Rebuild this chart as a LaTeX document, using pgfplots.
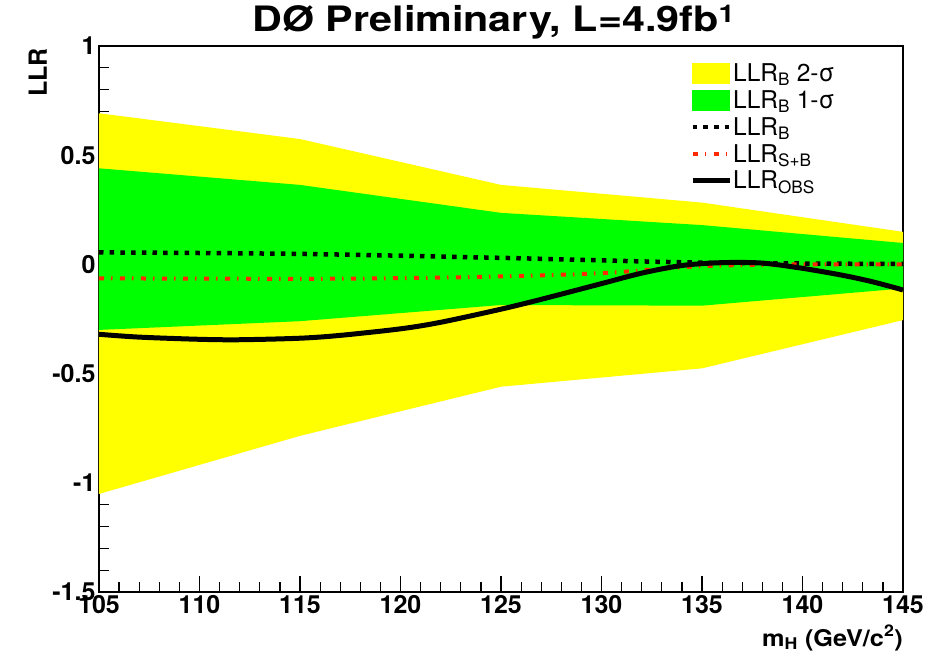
\documentclass[border=0pt]{standalone}
\usepackage{pgfplots}
\pgfplotsset{compat=1.18}
\usepackage{fontspec}
\setmainfont{TeX Gyre Heros}
\newfontfamily\widefont[FakeStretch=1.18]{TeX Gyre Heros}
\newfontfamily\semiwidefont[FakeStretch=1.1]{TeX Gyre Heros}

\definecolor{bandtwo}{RGB}{255,255,0}
\definecolor{bandone}{RGB}{0,255,0}
\definecolor{sbred}{RGB}{255,40,0}

\begin{document}
\begin{tikzpicture}
\begin{axis}[
  scale only axis, width=804pt, height=546pt,
  xmin=105, xmax=145, ymin=-1.5, ymax=1,
  xtick={105,110,...,145}, ytick={-1.5,-1,...,1},
  minor x tick num=4, minor y tick num=4,
  tick align=inside, xtick pos=left, ytick pos=left,
  major tick length=16pt, minor tick length=10pt,
  tick style={black, line width=1.2pt},
  axis line style={line width=1.5pt},
  scaled ticks=false,
  /pgf/number format/assume math mode=true,
  /pgf/number format/fixed,
  ticklabel style={font=\fontsize{25}{25}\selectfont\bfseries},
  title={DØ Preliminary, L=4.9fb\textsuperscript{1}},
  title style={at={(axis description cs:0.491,1.0147)}, anchor=base, inner sep=0pt,
    font=\widefont\bfseries\fontsize{35}{35}\selectfont},
  xlabel={m\textsubscript{H} (GeV/c\textsuperscript{2})},
  xlabel style={at={(axis description cs:1,-0.0989)}, anchor=base east, inner sep=0pt,
    font=\semiwidefont\bfseries\fontsize{23}{23}\selectfont},
  ylabel={LLR},
  ylabel style={at={(axis description cs:-0.0647,0.9963)}, anchor=base east, inner sep=0pt,
    font=\fontsize{25}{25}\selectfont\bfseries},
  legend style={at={(axis description cs:0.735,0.97)}, anchor=north west,
    draw=none, fill=none, inner sep=0pt, row sep=5.5pt,
    font=\fontsize{24.5}{26}\selectfont,
    nodes={inner sep=1pt}},
  legend cell align=left,
]
% expected 2-sigma and 1-sigma bands of LLR_B
\addplot[fill=bandtwo, draw=none, forget plot] coordinates {
  (105,0.692) (115,0.574) (125,0.364) (135,0.283) (145,0.149)
  (145,-0.255) (135,-0.476) (125,-0.560) (115,-0.785) (105,-1.051)} -- cycle;
\addplot[fill=bandone, draw=none, forget plot] coordinates {
  (105,0.440) (115,0.364) (125,0.236) (135,0.180) (145,0.098)
  (145,-0.110) (135,-0.189) (125,-0.186) (115,-0.260) (105,-0.300)} -- cycle;
% background-only expectation
\addplot[black, line width=4.5pt, dash pattern=on 4.5pt off 6.2pt, smooth, forget plot]
  coordinates {(105,0.055) (115,0.048) (125,0.030) (135,0.008) (145,0.002)};
% signal+background expectation
\addplot[sbred, line width=4pt, dash pattern=on 5pt off 7pt on 1.5pt off 7.5pt, smooth, forget plot]
  coordinates {(105,-0.064) (115,-0.066) (120,-0.063) (125,-0.055) (130,-0.040)
               (135,-0.008) (140,0.000) (145,0.000)};
% observed
\addplot[black, line width=5pt, smooth, forget plot]
  coordinates {(105,-0.320) (107,-0.333) (110,-0.343) (112,-0.345) (115,-0.338)
               (117,-0.325) (120,-0.295) (122,-0.265) (125,-0.205) (127,-0.160)
               (130,-0.088) (132,-0.040) (134,-0.005) (136,0.008) (138,0.006)
               (140,-0.018) (142,-0.050) (143.5,-0.080) (145,-0.117)};

\addlegendimage{legend image code/.code={\fill[bandtwo] (0pt,-10pt) rectangle (37pt,10pt);}}
\addlegendentry{LLR\textsubscript{B} 2-σ}
\addlegendimage{legend image code/.code={\fill[bandone] (0pt,-10pt) rectangle (37pt,10pt);}}
\addlegendentry{LLR\textsubscript{B} 1-σ}
\addlegendimage{legend image code/.code={\draw[black, line width=4.5pt, dash pattern=on 4.5pt off 6.2pt] (0pt,0pt) -- (37pt,0pt);}}
\addlegendentry{LLR\textsubscript{B}}
\addlegendimage{legend image code/.code={\draw[sbred, line width=4pt, dash pattern=on 5pt off 7pt on 1.5pt off 7.5pt] (0pt,0pt) -- (37pt,0pt);}}
\addlegendentry{LLR\textsubscript{S+B}}
\addlegendimage{legend image code/.code={\draw[black, line width=5pt] (0pt,0pt) -- (37pt,0pt);}}
\addlegendentry{LLR\textsubscript{OBS}}
\end{axis}
\pgfresetboundingbox
\path[use as bounding box] (-99pt,-63pt) rectangle (842pt,592pt);
\end{tikzpicture}
\end{document}
